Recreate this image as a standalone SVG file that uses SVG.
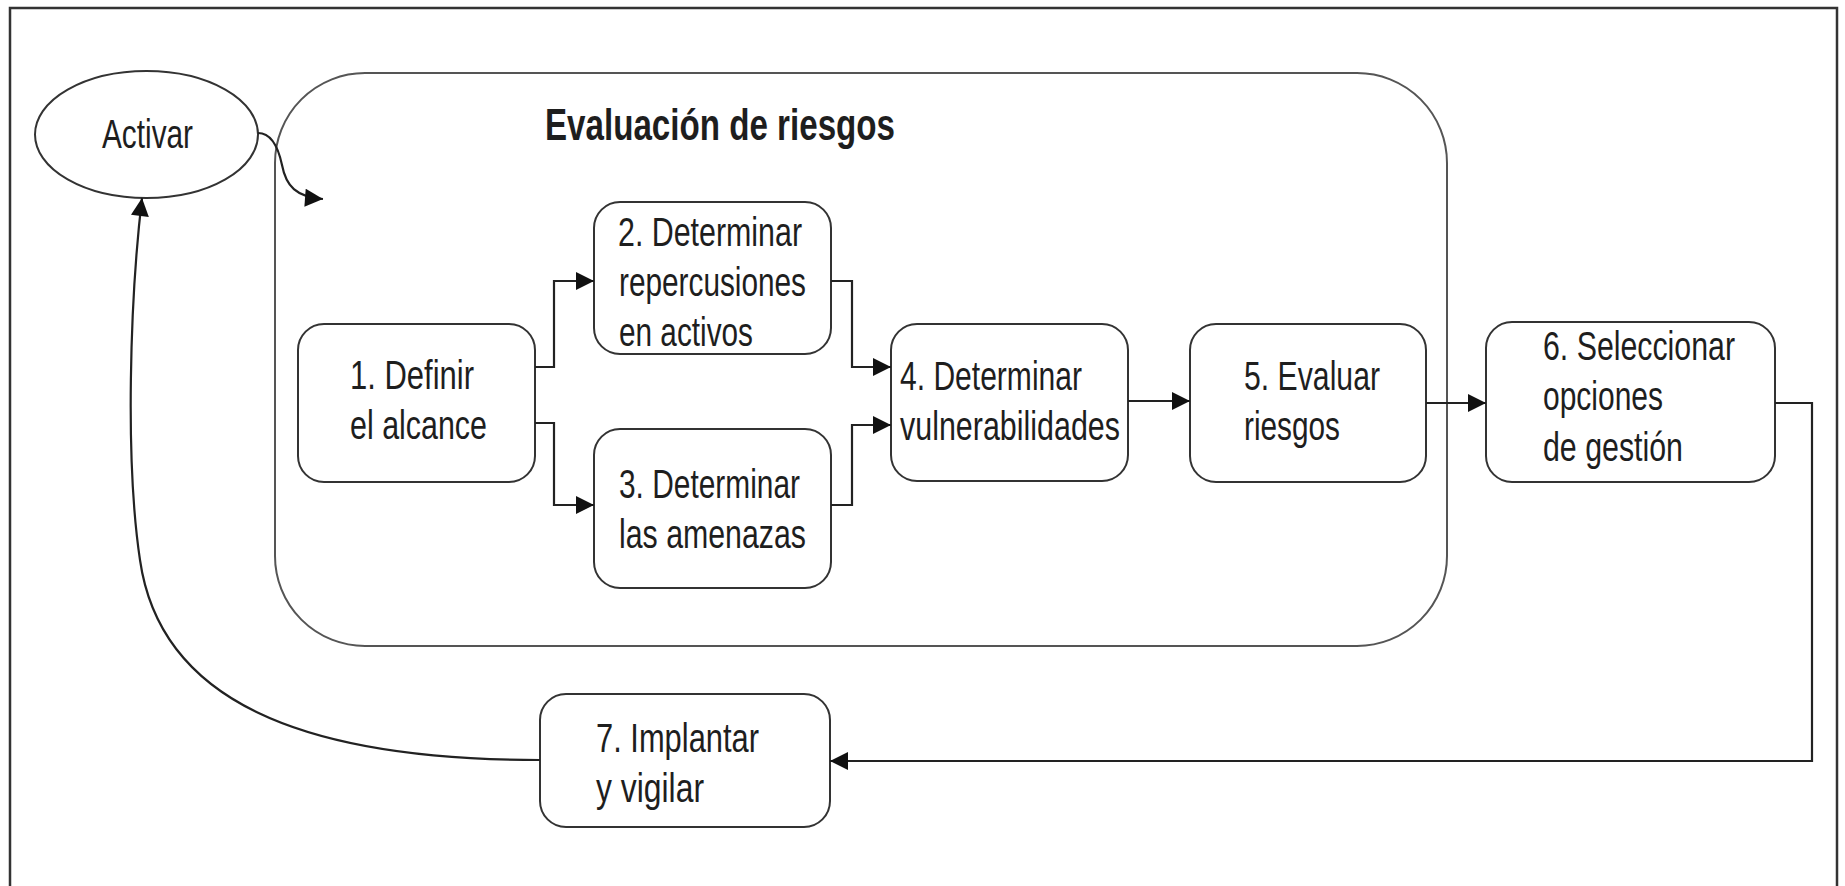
<svg xmlns="http://www.w3.org/2000/svg" width="1845" height="886" viewBox="0 0 1845 886">
<style>
.frame{fill:none;stroke:#333;stroke-width:2.5}
.box{fill:#fff;stroke:#333;stroke-width:2}
.group{fill:none;stroke:#555;stroke-width:2}
.t{font-family:"Liberation Sans",Arial,sans-serif;font-size:41px;fill:#1e1e1e}
.title{font-family:"Liberation Sans",Arial,sans-serif;font-size:45px;font-weight:bold;fill:#1e1e1e}
.c{fill:none;stroke:#222;stroke-width:2.2}
</style>
<defs>
<marker id="ah" viewBox="0 0 10 10" refX="10" refY="5" markerUnits="userSpaceOnUse" markerWidth="21" markerHeight="18" orient="auto">
<path d="M0,0 L10,5 L0,10 z" fill="#111"/>
</marker>
</defs>
<rect width="1845" height="886" fill="#fff"/>
<rect class="frame" x="10" y="8" width="1827" height="900"/>

<g id="evaluacion">
<rect class="group" x="275" y="73" width="1172" height="573" rx="90" ry="90"/>
<text class="title" x="545" y="140" textLength="350" lengthAdjust="spacingAndGlyphs">Evaluación de riesgos</text>
</g>

<g id="activar">
<ellipse class="box" cx="146.5" cy="134.5" rx="111.5" ry="63.5"/>
<text class="t" x="102" y="148" font-size="43" textLength="91" lengthAdjust="spacingAndGlyphs">Activar</text>
</g>

<g id="n1">
<rect class="box" x="298" y="324" width="237" height="158" rx="26"/>
<text class="t" x="350" y="389" textLength="124" lengthAdjust="spacingAndGlyphs">1. Definir</text>
<text class="t" x="350" y="439" textLength="137" lengthAdjust="spacingAndGlyphs">el alcance</text>
</g>

<g id="n2">
<rect class="box" x="594" y="202" width="237" height="152" rx="26"/>
<text class="t" x="618" y="246" textLength="184" lengthAdjust="spacingAndGlyphs">2. Determinar</text>
<text class="t" x="619" y="296" textLength="187" lengthAdjust="spacingAndGlyphs">repercusiones</text>
<text class="t" x="619" y="346" textLength="134" lengthAdjust="spacingAndGlyphs">en activos</text>
</g>

<g id="n3">
<rect class="box" x="594" y="429" width="237" height="159" rx="26"/>
<text class="t" x="619" y="498" textLength="181" lengthAdjust="spacingAndGlyphs">3. Determinar</text>
<text class="t" x="619" y="548" textLength="187" lengthAdjust="spacingAndGlyphs">las amenazas</text>
</g>

<g id="n4">
<rect class="box" x="891" y="324" width="237" height="157" rx="26"/>
<text class="t" x="900" y="390" textLength="182" lengthAdjust="spacingAndGlyphs">4. Determinar</text>
<text class="t" x="900" y="440" textLength="220" lengthAdjust="spacingAndGlyphs">vulnerabilidades</text>
</g>

<g id="n5">
<rect class="box" x="1190" y="324" width="236" height="158" rx="26"/>
<text class="t" x="1244" y="390" textLength="136" lengthAdjust="spacingAndGlyphs">5. Evaluar</text>
<text class="t" x="1244" y="440" textLength="96" lengthAdjust="spacingAndGlyphs">riesgos</text>
</g>

<g id="n6">
<rect class="box" x="1486" y="322" width="289" height="160" rx="26"/>
<text class="t" x="1543" y="360" textLength="192" lengthAdjust="spacingAndGlyphs">6. Seleccionar</text>
<text class="t" x="1543" y="410" textLength="120" lengthAdjust="spacingAndGlyphs">opciones</text>
<text class="t" x="1543" y="461" textLength="140" lengthAdjust="spacingAndGlyphs">de gestión</text>
</g>

<g id="n7">
<rect class="box" x="540" y="694" width="290" height="133" rx="26"/>
<text class="t" x="596" y="752" textLength="163" lengthAdjust="spacingAndGlyphs">7. Implantar</text>
<text class="t" x="596" y="802" textLength="108" lengthAdjust="spacingAndGlyphs">y vigilar</text>
</g>

<g id="connectors">
<path class="c" d="M258,133 C270,133 278,146 282,165 C286,186 296,197 323,199" marker-end="url(#ah)"/>
<path class="c" d="M535,367 H554 V281 H594" marker-end="url(#ah)"/>
<path class="c" d="M535,423 H554 V505 H594" marker-end="url(#ah)"/>
<path class="c" d="M831,281 H852 V367 H891" marker-end="url(#ah)"/>
<path class="c" d="M831,505 H852 V425 H891" marker-end="url(#ah)"/>
<path class="c" d="M1128,401 H1190" marker-end="url(#ah)"/>
<path class="c" d="M1426,403 H1486" marker-end="url(#ah)"/>
<path class="c" d="M1775,403 H1812 V761 H830" marker-end="url(#ah)"/>
<path class="c" d="M540,760 C300,760 160,700 140,560 C125,460 130,300 142,198" marker-end="url(#ah)"/>
</g>
</svg>
